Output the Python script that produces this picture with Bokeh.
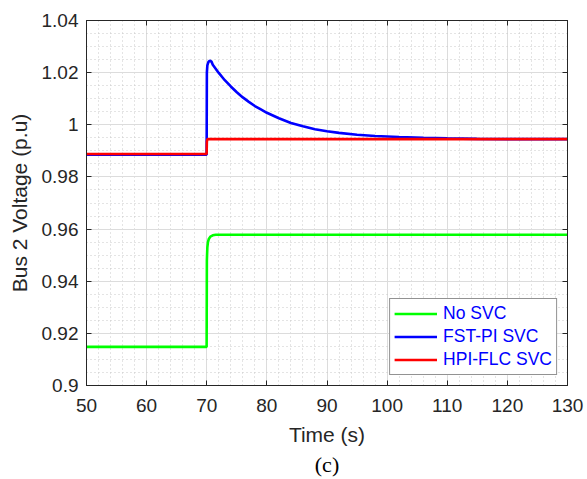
import numpy as np
from bokeh.plotting import figure
from bokeh.models import Range1d, LinearAxis, FixedTicker, Legend, LegendItem, Title
from bokeh.embed import file_html
from bokeh.resources import INLINE

# ---- data ----
t_nosvc = [50, 69.98, 70.02, 70.1, 70.2, 70.35, 70.6, 71.0, 71.5, 130]
v_nosvc = [0.9148, 0.9148, 0.9480, 0.9530, 0.9550, 0.9562, 0.9571, 0.9576, 0.9578, 0.9578]

t_fst = [50, 69.98, 70.02, 70.1, 70.3, 70.5, 70.8, 71, 72, 73, 74, 75, 76, 77, 78, 79, 80,
         82, 84, 86, 88, 90, 92, 95, 98, 102, 106, 110, 115, 120, 125, 130]
v_fst = [0.9885, 0.9885, 1.0200, 1.0228, 1.0242, 1.0246, 1.0242, 1.0230, 1.0199, 1.0171,
         1.0147, 1.0125, 1.0105, 1.0088, 1.0072, 1.0059, 1.0046, 1.0025, 1.0007, 0.9994,
         0.9983, 0.9975, 0.9969, 0.9962, 0.9957, 0.9953, 0.9950, 0.9948, 0.9946, 0.9945,
         0.9945, 0.9945]

t_hpi = [50, 69.98, 70.02, 70.08, 70.2, 130]
v_hpi = [0.9888, 0.9888, 0.9935, 0.9943, 0.9945, 0.9945]

x_ticks = [50, 60, 70, 80, 90, 100, 110, 120, 130]
x_tick_labels = ["50", "60", "70", "80", "90", "100", "110", "120", "130"]
y_ticks = [0.9, 0.92, 0.94, 0.96, 0.98, 1.0, 1.02, 1.04]
y_tick_labels = ["0.9", "0.92", "0.94", "0.96", "0.98", "1", "1.02", "1.04"]

series_names = ["No SVC", "FST-PI SVC", "HPI-FLC SVC"]
series_colors = ["#00FF00", "#0000FF", "#FF0000"]

AX = "#262626"
FONT = "Liberation Sans"

p = figure(width=587, height=479, output_backend="svg", toolbar_location=None,
           x_range=Range1d(50, 130), y_range=Range1d(0.9, 1.04),
           min_border_left=86, min_border_right=20, min_border_top=20,
           min_border_bottom=94, background_fill_color="white",
           border_fill_color="white")
p.outline_line_color = AX
p.outline_line_width = 1

x_minor = list(np.round(np.arange(50, 130.01, 2), 3))
y_minor = list(np.round(np.arange(0.9, 1.0401, 0.005), 4))
xt = FixedTicker(ticks=x_ticks, minor_ticks=x_minor)
yt = FixedTicker(ticks=y_ticks, minor_ticks=y_minor)


def style_axis(ax, ticker, labels, standoff=8, show_labels=True):
    ax.ticker = ticker
    if show_labels:
        ax.major_label_overrides = dict(zip(ticker.ticks, labels))
    else:
        ax.major_label_overrides = {tk: "" for tk in ticker.ticks}
    ax.axis_line_color = AX
    ax.major_tick_line_color = AX
    ax.major_tick_in = 5
    ax.major_tick_out = 0
    ax.minor_tick_in = 0
    ax.minor_tick_out = 0
    ax.major_label_text_font = FONT
    ax.major_label_text_color = AX
    ax.major_label_text_font_size = "19px"
    ax.major_label_standoff = standoff if show_labels else 0


style_axis(p.xaxis[0], xt, x_tick_labels, standoff=13)
style_axis(p.yaxis[0], yt, y_tick_labels, standoff=8)
p.xaxis[0].axis_label = "Time (s)"
p.yaxis[0].axis_label = "Bus 2 Voltage (p.u)"
for ax in (p.xaxis[0], p.yaxis[0]):
    ax.axis_label_text_font = FONT
    ax.axis_label_text_font_size = "21px"
    ax.axis_label_text_font_style = "normal"
    ax.axis_label_text_color = AX
    ax.axis_label_standoff = 8

top_ax = LinearAxis()
style_axis(top_ax, xt, x_tick_labels, show_labels=False)
p.add_layout(top_ax, "above")
right_ax = LinearAxis()
style_axis(right_ax, yt, y_tick_labels, show_labels=False)
p.add_layout(right_ax, "right")

for g in (p.xgrid[0], p.ygrid[0]):
    g.grid_line_color = "#dcdcdc"
    g.grid_line_width = 1
    g.minor_grid_line_color = "#c8c8c8"
    g.minor_grid_line_dash = "1 3"
    g.minor_grid_line_width = 1
p.xgrid[0].ticker = xt
p.ygrid[0].ticker = yt

renderers = []
for (t, v), c in zip([(t_nosvc, v_nosvc), (t_fst, v_fst), (t_hpi, v_hpi)], series_colors):
    r = p.line(t, v, line_color=c, line_width=2.6)
    renderers.append(r)

legend = Legend(items=[LegendItem(label=n, renderers=[r]) for n, r in zip(series_names, renderers)],
                location="bottom_right")
legend.margin = 10
legend.padding = 4
legend.spacing = 2
legend.label_height = 21
legend.glyph_height = 21
legend.glyph_width = 43
legend.label_standoff = 6
legend.label_text_font = FONT
legend.label_text_font_size = "17.5px"
legend.label_text_color = "#0000FF"
legend.border_line_color = AX
legend.border_line_width = 1
legend.background_fill_color = "white"
legend.background_fill_alpha = 1
p.add_layout(legend)

cap = Title(text="(c)", align="center", text_font="Liberation Serif",
            text_font_size="22px", text_font_style="normal", text_color="black",
            standoff=2, offset=0)
p.add_layout(cap, "below")

open("out.html", "w").write(file_html(p, INLINE))
